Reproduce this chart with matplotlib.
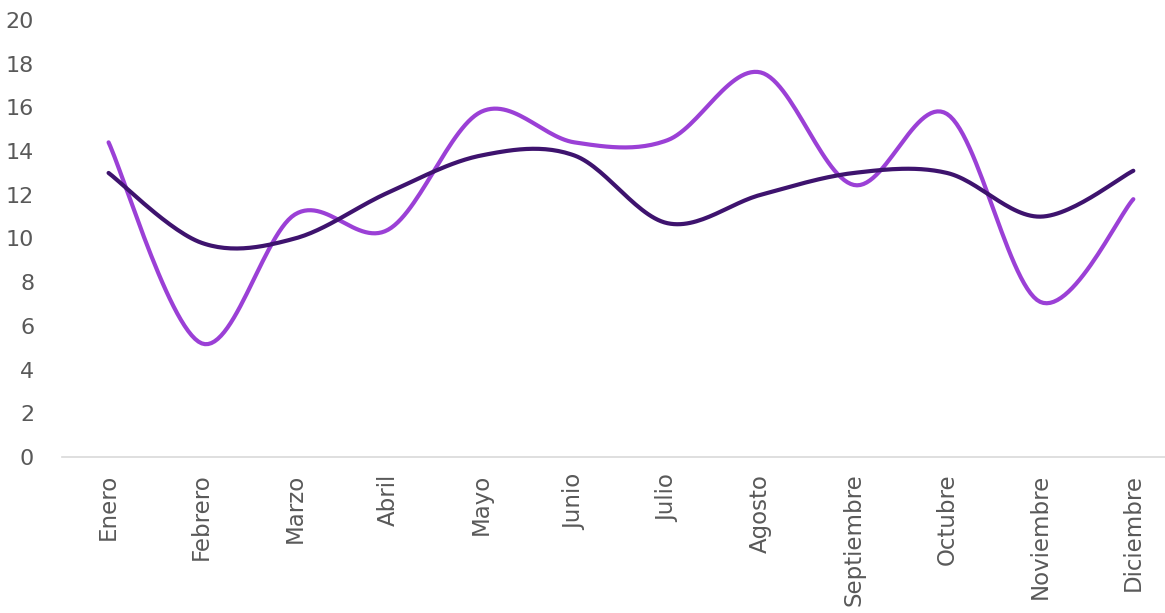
import matplotlib
matplotlib.use('Agg')
import matplotlib.pyplot as plt
import numpy as np

# 数据
months = ['Enero', 'Febrero', 'Marzo', 'Abril', 'Mayo', 'Junio', 'Julio',
          'Agosto', 'Septiembre', 'Octubre', 'Noviembre', 'Diciembre']
serie_a = [14.4, 5.2, 11.1, 10.4, 15.8, 14.4, 14.5, 17.6, 12.45, 15.7, 7.1, 11.8]
serie_b = [13.0, 9.8, 10.0, 12.1, 13.8, 13.8, 10.7, 12.0, 13.0, 13.0, 11.0, 13.1]
y_ticks = list(range(0, 21, 2))

COLOR_A = '#9B40D6'
COLOR_B = '#3E136E'
TEXT_COLOR = '#595959'


def smooth(xs, ys, n=30):
    """Catmull-Rom 平滑（类似 Excel 平滑线）"""
    xs = np.asarray(xs, float)
    ys = np.asarray(ys, float)
    px = np.concatenate([[xs[0]], xs, [xs[-1]]])
    py = np.concatenate([[ys[0]], ys, [ys[-1]]])
    out_x, out_y = [], []
    t = np.linspace(0, 1, n)
    for i in range(1, len(px) - 2):
        for p, out in ((px, out_x), (py, out_y)):
            p0, p1, p2, p3 = p[i - 1], p[i], p[i + 1], p[i + 2]
            m1 = (p2 - p0) / 2
            m2 = (p3 - p1) / 2
            h00 = 2 * t**3 - 3 * t**2 + 1
            h10 = t**3 - 2 * t**2 + t
            h01 = -2 * t**3 + 3 * t**2
            h11 = t**3 - t**2
            out.extend(h00 * p1 + h10 * m1 + h01 * p2 + h11 * m2)
    return np.array(out_x), np.array(out_y)


fig = plt.figure(figsize=(11.65, 6.13), dpi=100)
ax = fig.add_axes([62 / 1165, (613 - 457) / 613, (1165 - 62) / 1165, (457 - 20) / 613])

x = np.arange(len(months))
for ys, c in ((serie_a, COLOR_A), (serie_b, COLOR_B)):
    sx, sy = smooth(x, ys)
    ax.plot(sx, sy, color=c, lw=3.0, solid_capstyle='round')

ax.set_xlim(-0.5, 11.34)
ax.set_ylim(0, 20)
ax.set_yticks(y_ticks)
ax.set_yticklabels([str(v) for v in y_ticks], fontsize=16, color=TEXT_COLOR)
ax.set_xticks(x)
ax.set_xticklabels(months, rotation=90, fontsize=16.5, color=TEXT_COLOR)
ax.tick_params(axis='both', length=0)
ax.tick_params(axis='x', pad=12)
ax.tick_params(axis='y', pad=20)
for s in ('top', 'right', 'left'):
    ax.spines[s].set_visible(False)
ax.spines['bottom'].set_color('#D9D9D9')
ax.spines['bottom'].set_linewidth(1.2)

fig.savefig('out.png', dpi=100)
